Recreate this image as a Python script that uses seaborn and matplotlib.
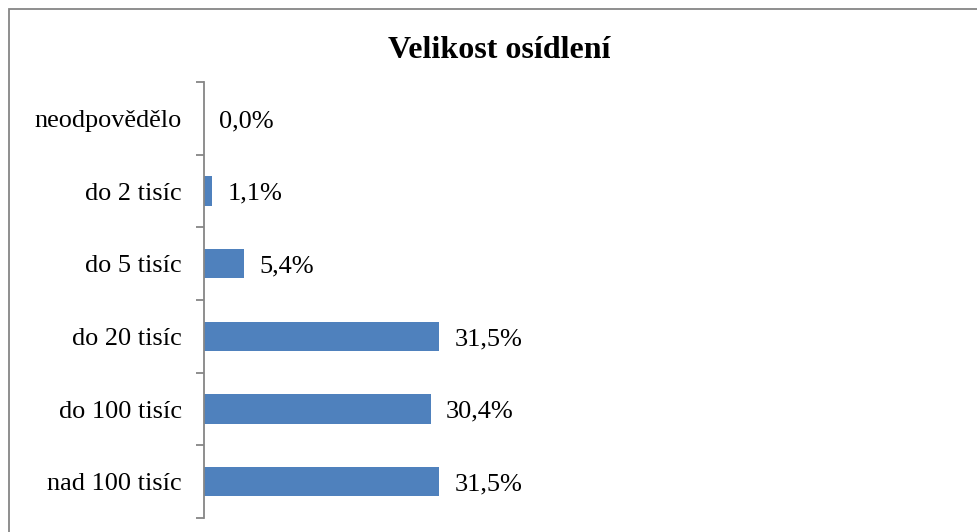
import matplotlib
matplotlib.use("Agg")
from matplotlib import pyplot as plt
from matplotlib.patches import Rectangle
import seaborn as sns
import pandas as pd

categories = ['neodpovědělo', 'do 2 tisíc', 'do 5 tisíc', 'do 20 tisíc', 'do 100 tisíc', 'nad 100 tisíc']
values = [0.0, 1.1, 5.4, 31.5, 30.4, 31.5]
title = 'Velikost osídlení'

df = pd.DataFrame({'category': categories, 'percent': values})

sns.set_theme(style='white')
plt.rcParams['font.family'] = ['Liberation Serif', 'DejaVu Serif']

fig = plt.figure(figsize=(9.78, 5.32), dpi=100)
ax = fig.add_axes([204 / 978, 14 / 532, (950 - 204) / 978, (518 - 82) / 532])

sns.barplot(data=df, x='percent', y='category', orient='h', color='#4F81BD',
            width=0.4, linewidth=0, saturation=1, ax=ax)

ax.set_xlim(0, 100)
ax.set_ylim(len(categories) - 0.5, -0.5)
ax.set_xlabel('')
ax.set_ylabel('')
ax.set_xticks([])

for s in ['top', 'right', 'bottom']:
    ax.spines[s].set_visible(False)
ax.spines['left'].set_color('#868686')
ax.spines['left'].set_linewidth(1.3)

ax.set_yticks(range(len(categories)))
ax.set_yticklabels(categories, fontsize=18.9, color='black')
ax.set_yticks([i - 0.5 for i in range(len(categories) + 1)], minor=True)
ax.tick_params(axis='y', which='major', length=0, pad=16)
ax.tick_params(axis='y', which='minor', length=5.5, width=1.3, color='#868686', left=True)

# data labels with comma decimal separator
for p, v in zip(ax.containers[0], values):
    lab = f'{v:.1f}'.replace('.', ',') + '%'
    ax.annotate(lab, (p.get_width(), p.get_y() + p.get_height() / 2),
                xytext=(11, -2), textcoords='offset points',
                ha='left', va='center', fontsize=19, color='black')

fig.text(499 / 978, 1 - 50 / 532, title, ha='center', va='center',
         fontsize=23, fontweight='bold', color='black')

fig.patches.append(Rectangle((8.5 / 978, -0.1), 1.2, 1 - 8.5 / 532 + 0.1,
                             transform=fig.transFigure, fill=False,
                             edgecolor='#868686', linewidth=1.3))

fig.savefig('out.png', dpi=100)
